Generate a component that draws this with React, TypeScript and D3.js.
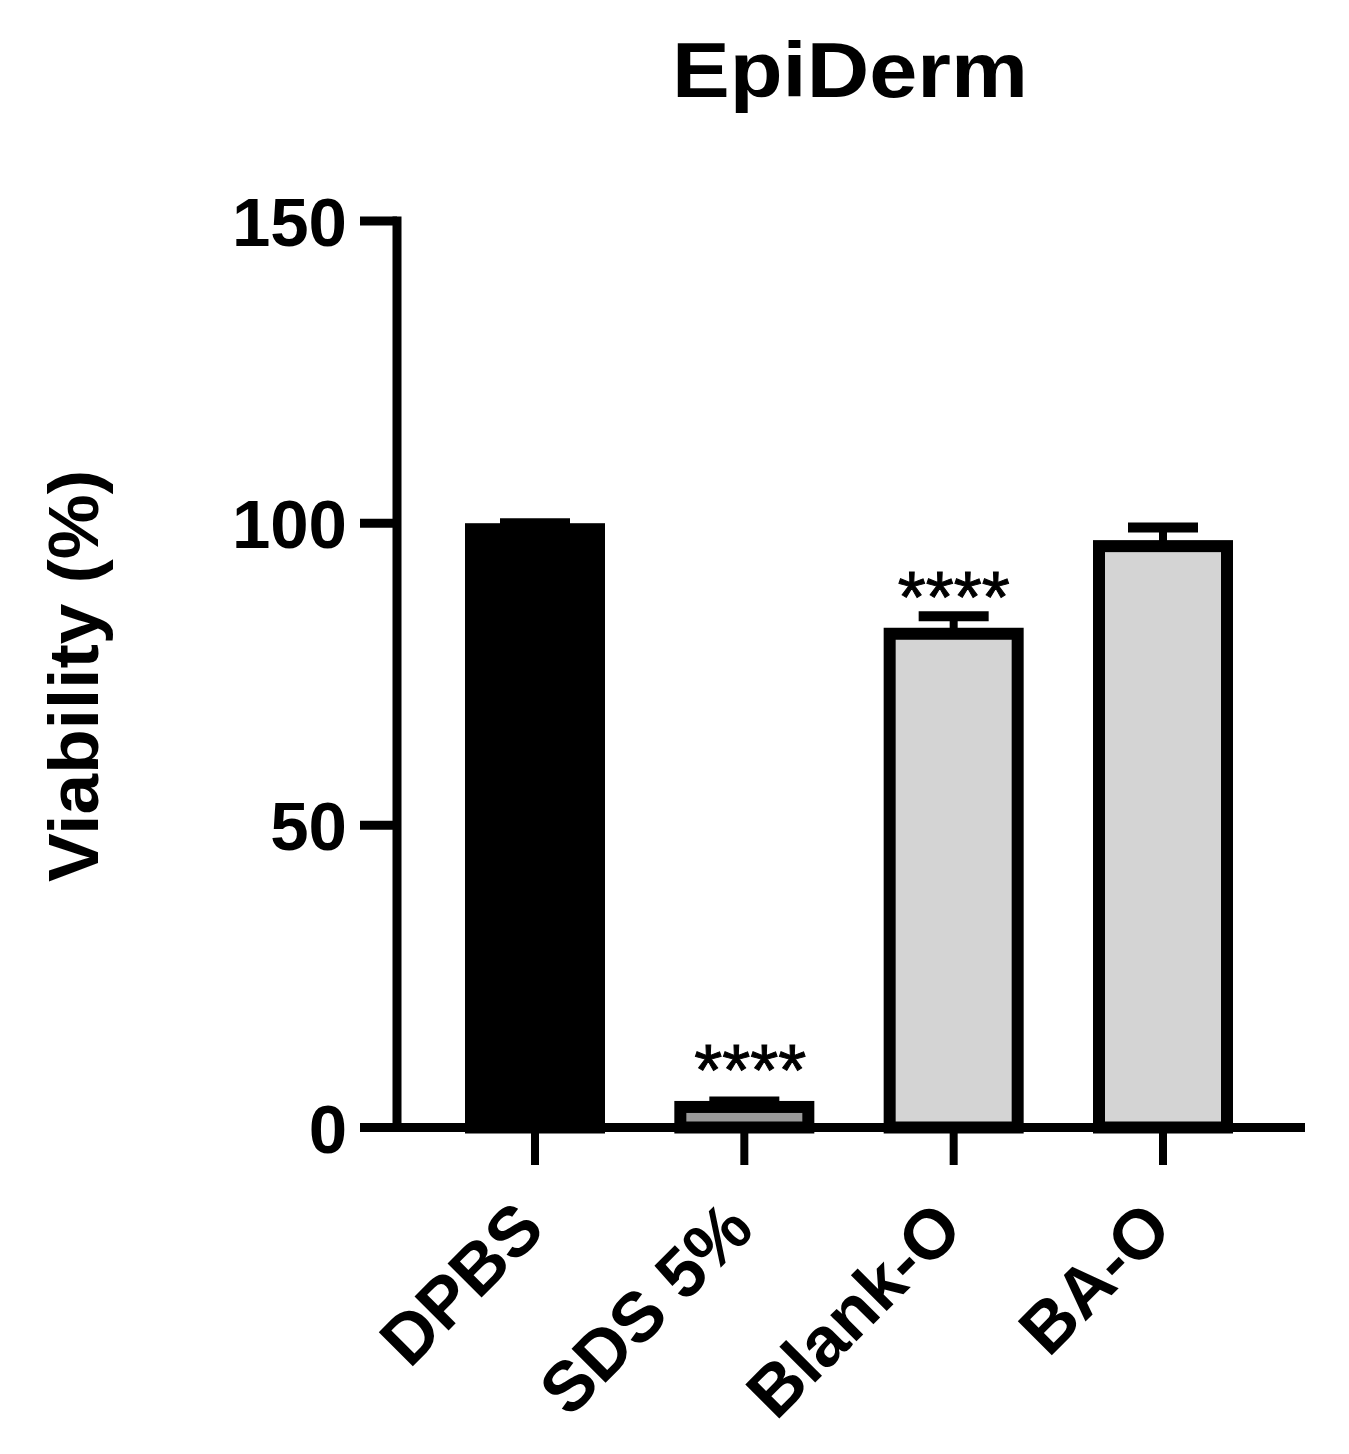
import React from "react";
import * as d3 from "d3";

const categories = ["DPBS", "SDS 5%", "Blank-O", "BA-O"];
const means = [99.0, 3.4, 81.7, 96.2];
const sds = [1.0, 0.9, 2.9, 3.1];
const fills = ["#000000", "#9a9a9a", "#d4d4d4", "#d4d4d4"];
const stars = ["", "****", "****", ""];
const yTicks = [0, 50, 100, 150];

const W = 1349;
const H = 1454;
const FONT = "'Liberation Sans', Arial, Helvetica, sans-serif";

export default function App() {
  const y = d3.scaleLinear().domain([0, 150]).range([1127.5, 221]);
  const x = d3.scalePoint<string>().domain(categories).range([535, 1163]);
  const barW = 128;
  const capW = 70;
  const axisX = 397;
  const axisY = y(0);

  return (
    <svg
      width={W}
      height={H}
      style={{ position: "absolute", left: 0, top: 0, display: "block", background: "#fff" }}
    >
      <rect x={0} y={0} width={W} height={H} fill="#fff" />
      {/* title */}
      <text
        x={850}
        y={97}
        textAnchor="middle"
        fontFamily={FONT}
        fontWeight="bold"
        fontSize={78}
        textLength={356}
        lengthAdjust="spacingAndGlyphs"
      >
        EpiDerm
      </text>
      {/* y label */}
      <text
        transform={`translate(98,676) rotate(-90)`}
        textAnchor="middle"
        fontFamily={FONT}
        fontWeight="bold"
        fontSize={70}
        textLength={412}
        lengthAdjust="spacingAndGlyphs"
      >
        Viability (%)
      </text>

      {/* error bars */}
      {categories.map((c, i) => {
        const cx = x(c)!;
        const top = y(means[i] + sds[i]);
        return (
          <g key={"e" + c}>
            <line x1={cx} x2={cx} y1={y(means[i])} y2={top} stroke="#000" strokeWidth={8} />
            <line x1={cx - capW / 2} x2={cx + capW / 2} y1={top} y2={top} stroke="#000" strokeWidth={10} />
          </g>
        );
      })}

      {/* bars */}
      {categories.map((c, i) => {
        const cx = x(c)!;
        return (
          <rect
            key={"b" + c}
            x={cx - barW / 2}
            y={y(means[i])}
            width={barW}
            height={y(0) - y(means[i])}
            fill={fills[i]}
            stroke="#000"
            strokeWidth={12}
          />
        );
      })}

      {/* stars */}
      {categories.map((c, i) =>
        stars[i] ? (
          <text
            key={"s" + c}
            x={x(c)! + (i === 1 ? 6 : 0)}
            y={y(means[i]) - 12}
            textAnchor="middle"
            fontFamily={FONT}
            fontSize={72}
            stroke="#000"
            strokeWidth={1}
          >
            {stars[i]}
          </text>
        ) : null
      )}

      {/* y axis */}
      <line x1={axisX} x2={axisX} y1={y(150) - 4.5} y2={axisY} stroke="#000" strokeWidth={9} />
      {yTicks.map((t) => (
        <g key={"yt" + t}>
          <line x1={360} x2={axisX} y1={y(t)} y2={y(t)} stroke="#000" strokeWidth={9} />
          <text
            x={347}
            y={y(t) + 25}
            textAnchor="end"
            fontFamily={FONT}
            fontWeight="bold"
            fontSize={69}
          >
            {t}
          </text>
        </g>
      ))}

      {/* x axis */}
      <line x1={360} x2={1305} y1={axisY} y2={axisY} stroke="#000" strokeWidth={9} />
      {categories.map((c) => (
        <g key={"xt" + c}>
          <line x1={x(c)!} x2={x(c)!} y1={axisY} y2={1165} stroke="#000" strokeWidth={8} />
          <text
            transform={`translate(${x(c)! + 12},1232) rotate(-45)`}
            textAnchor="end"
            fontFamily={FONT}
            fontWeight="bold"
            fontSize={70}
          >
            {c}
          </text>
        </g>
      ))}
    </svg>
  );
}
